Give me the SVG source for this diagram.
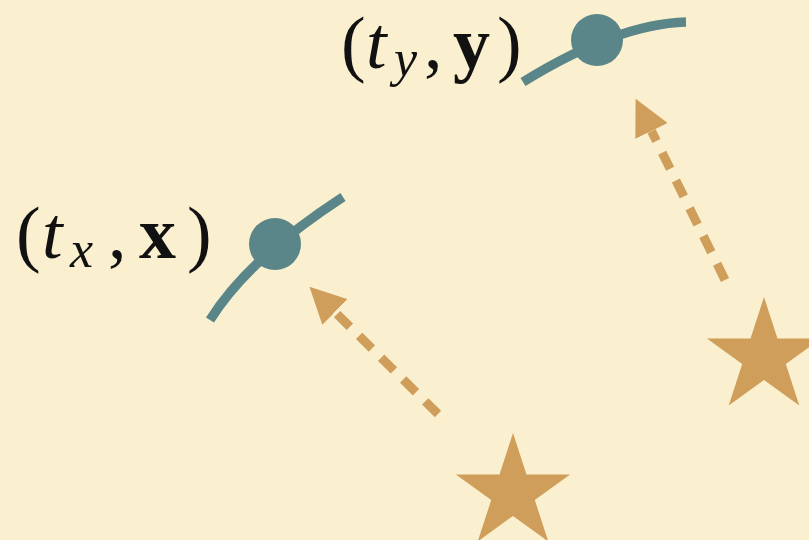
<svg xmlns="http://www.w3.org/2000/svg" width="809" height="540" viewBox="0 0 809 540">
  <style>
    .curve { fill: none; stroke: #5a8589; stroke-width: 9.5; stroke-linecap: butt; }
    .dot { fill: #5a8589; }
    .dash { fill: none; stroke: #cf9e5b; stroke-width: 9; stroke-dasharray: 18 13; }
    .star { fill: #cf9e5b; }
    .lbl { font-family: "Liberation Serif", "DejaVu Serif", serif; font-size: 74px; fill: #111; }
    .it { font-style: italic; }
    .sub { font-style: italic; font-size: 52px; }
    .bf { font-weight: bold; }
  </style>
  <defs>
    <marker id="ah" markerUnits="userSpaceOnUse" markerWidth="36" markerHeight="36" viewBox="0 0 34 34" refX="0" refY="17" orient="auto">
      <path d="M0,0 L34,17 L0,34 Z" fill="#cf9e5b"/>
    </marker>
  </defs>
  <rect x="0" y="0" width="809" height="540" fill="#faf0cf"/>

  <g id="node-x">
    <path class="curve" d="M210,320 Q248.5,258.4 343,197"/>
    <circle class="dot" cx="275" cy="244" r="26"/>
    <text class="lbl" y="258"><tspan x="16">(</tspan><tspan class="it" x="42">t</tspan><tspan class="sub" x="70" y="267">x</tspan><tspan x="108" y="258">,</tspan><tspan class="bf" x="139">x</tspan><tspan x="187">)</tspan></text>
  </g>

  <g id="node-y">
    <path class="curve" d="M523,82 Q617,24 686,22"/>
    <circle class="dot" cx="597" cy="40" r="26"/>
    <text class="lbl" y="68"><tspan x="341">(</tspan><tspan class="it" x="366">t</tspan><tspan class="sub" x="394" y="76">y</tspan><tspan x="424" y="68">,</tspan><tspan class="bf" x="453">y</tspan><tspan x="497">)</tspan></text>
  </g>

  <g id="star-1">
    <polygon class="star" points="513,433 526.5,474.5 570.1,474.5 534.8,500.1 548.3,541.5 513,515.9 477.7,541.5 491.2,500.1 455.9,474.5 499.5,474.5"/>
  </g>
  <g id="star-2">
    <polygon class="star" points="764,297 777.5,338.5 821.1,338.5 785.8,364.1 799.3,405.5 764,379.9 728.7,405.5 742.2,364.1 706.9,338.5 750.5,338.5"/>
  </g>

  <g id="connectors">
    <path class="dash" d="M438,414 L335,312" marker-end="url(#ah)"/>
    <path class="dash" d="M725,280 L651.5,131" marker-end="url(#ah)"/>
  </g>
</svg>
